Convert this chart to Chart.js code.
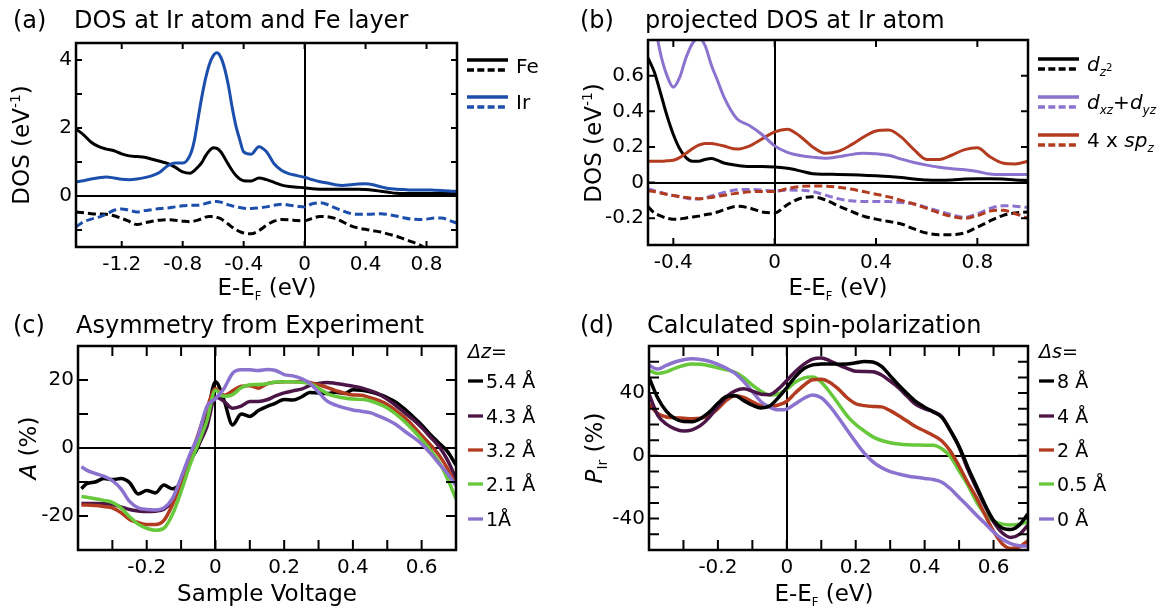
<!DOCTYPE html>
<html>

<head>
    <meta charset="utf-8">
    <title>DOS and spin-polarization at the Ir atom</title>
    <script src="https://cdn.jsdelivr.net/npm/chart.js"></script>
    <style>
        body {
            margin: 0;
            background: #fff;
            font-family: "DejaVu Sans", sans-serif;
        }

        #fig {
            position: relative;
            width: 1166px;
            height: 612px;
            overflow: hidden;
        }

        canvas {
            position: absolute;
        }

        .t {
            position: absolute;
            white-space: nowrap;
            line-height: 1;
            color: #000;
            transform: translateY(-50%);
        }

        .c {
            transform: translate(-50%, -50%);
        }

        .r {
            transform: translate(-50%, -50%) rotate(-90deg);
        }

        .big { font-size: 24px; }
        .ax { font-size: 23px; }
        .lg { font-size: 20px; }
        .lg2 { font-size: 19px; }

        sub, sup {
            font-size: 0.6em;
            line-height: 0;
        }

        sub.f {
            font-size: 0.5em;
        }

        sub sup {
            font-size: 0.85em;
        }

        svg {
            position: absolute;
            left: 0;
            top: 0;
        }
    </style>
</head>

<body>
    <div id="fig">
        <canvas id="ca" width="470" height="300" style="left:0;top:0"></canvas>
        <canvas id="cb" width="460" height="300" style="left:580px;top:0"></canvas>
        <canvas id="cc" width="470" height="312" style="left:0;top:300px"></canvas>
        <canvas id="cd" width="460" height="312" style="left:580px;top:300px"></canvas>

        <!-- legend swatches -->
        <svg width="1166" height="612">
            <g stroke-width="3.3">
                <line x1="467" x2="508" y1="60" y2="60" stroke="#000" />
                <line x1="467" x2="508" y1="70" y2="70" stroke="#000" stroke-dasharray="7 3.3" />
                <line x1="467" x2="508" y1="97" y2="97" stroke="#1c4eac" />
                <line x1="467" x2="508" y1="107" y2="107" stroke="#1c4eac" stroke-dasharray="7 3.3" />

                <line x1="1038" x2="1079" y1="59" y2="59" stroke="#000" />
                <line x1="1038" x2="1079" y1="69" y2="69" stroke="#000" stroke-dasharray="7 3.3" />
                <line x1="1038" x2="1079" y1="97" y2="97" stroke="#8b72cf" />
                <line x1="1038" x2="1079" y1="107" y2="107" stroke="#8b72cf" stroke-dasharray="7 3.3" />
                <line x1="1038" x2="1079" y1="135" y2="135" stroke="#b33b1f" />
                <line x1="1038" x2="1079" y1="145" y2="145" stroke="#b33b1f" stroke-dasharray="7 3.3" />

                <line x1="468" x2="483" y1="381" y2="381" stroke="#000" />
                <line x1="468" x2="483" y1="416" y2="416" stroke="#4c1547" />
                <line x1="468" x2="483" y1="450" y2="450" stroke="#b33b1f" />
                <line x1="468" x2="483" y1="484" y2="484" stroke="#66c83a" />
                <line x1="468" x2="483" y1="519" y2="519" stroke="#8b72cf" />

                <line x1="1039" x2="1054" y1="381" y2="381" stroke="#000" />
                <line x1="1039" x2="1054" y1="416" y2="416" stroke="#4c1547" />
                <line x1="1039" x2="1054" y1="450" y2="450" stroke="#b33b1f" />
                <line x1="1039" x2="1054" y1="484" y2="484" stroke="#66c83a" />
                <line x1="1039" x2="1054" y1="519" y2="519" stroke="#8b72cf" />
            </g>
        </svg>

        <!-- titles -->
        <div class="t big" style="left:13px;top:20px">(a)</div>
        <div class="t big" style="left:74px;top:20px">DOS at Ir atom and Fe layer</div>
        <div class="t big" style="left:580px;top:20px">(b)</div>
        <div class="t big" style="left:645px;top:20px">projected DOS at Ir atom</div>
        <div class="t big" style="left:13px;top:325px">(c)</div>
        <div class="t big" style="left:76px;top:325px">Asymmetry from Experiment</div>
        <div class="t big" style="left:580px;top:325px">(d)</div>
        <div class="t big" style="left:647px;top:325px">Calculated spin-polarization</div>

        <!-- axis titles -->
        <div class="t ax r" style="left:21px;top:145px">DOS (eV<sup>-1</sup>)</div>
        <div class="t ax r" style="left:593px;top:143px">DOS (eV<sup>-1</sup>)</div>
        <div class="t ax r" style="left:28px;top:448px"><i>A</i> (%)</div>
        <div class="t ax r" style="left:594px;top:448px"><i>P</i><sub>Ir</sub> (%)</div>
        <div class="t ax c" style="left:267px;top:287px">E-E<sub class="f">F</sub> (eV)</div>
        <div class="t ax c" style="left:838px;top:287px">E-E<sub class="f">F</sub> (eV)</div>
        <div class="t ax c" style="left:267px;top:593px">Sample Voltage</div>
        <div class="t ax c" style="left:824px;top:593px">E-E<sub class="f">F</sub> (eV)</div>

        <!-- legend texts -->
        <div class="t lg" style="left:516px;top:66px">Fe</div>
        <div class="t lg" style="left:516px;top:102px">Ir</div>
        <div class="t lg" style="left:1087px;top:64px"><i>d</i><sub><i>z</i><sup>2</sup></sub></div>
        <div class="t lg" style="left:1087px;top:102px"><i>d</i><sub><i>xz</i></sub>+<i>d</i><sub><i>yz</i></sub></div>
        <div class="t lg" style="left:1087px;top:140px">4 x <i>sp</i><sub><i>z</i></sub></div>

        <div class="t lg2" style="left:468px;top:351px"><i>Δz</i>=</div>
        <div class="t lg2" style="left:486px;top:381px">5.4 Å</div>
        <div class="t lg2" style="left:486px;top:416px">4.3 Å</div>
        <div class="t lg2" style="left:486px;top:450px">3.2 Å</div>
        <div class="t lg2" style="left:486px;top:484px">2.1 Å</div>
        <div class="t lg2" style="left:486px;top:519px">1Å</div>

        <div class="t lg2" style="left:1039px;top:351px"><i>Δs</i>=</div>
        <div class="t lg2" style="left:1057px;top:381px">8 Å</div>
        <div class="t lg2" style="left:1057px;top:416px">4 Å</div>
        <div class="t lg2" style="left:1057px;top:450px">2 Å</div>
        <div class="t lg2" style="left:1057px;top:484px">0.5 Å</div>
        <div class="t lg2" style="left:1057px;top:519px">0 Å</div>
    </div>

    <script>
        // ---- (a) DOS at Ir atom and Fe layer (up = solid, down = dashed)
        const aE = [-1.5, -1.45, -1.4, -1.35, -1.3, -1.25, -1.2, -1.15, -1.1, -1.05, -1.0, -0.95, -0.9, -0.85, -0.8, -0.75,
            -0.725, -0.7, -0.675, -0.65, -0.625, -0.6, -0.575, -0.55, -0.525, -0.5, -0.475, -0.45, -0.425,
            -0.4, -0.35, -0.3, -0.25, -0.2, -0.15, -0.1, -0.05, 0, 0.05, 0.1, 0.15, 0.2, 0.25, 0.3, 0.35, 0.4,
            0.45, 0.5, 0.55, 0.6, 0.65, 0.7, 0.75, 0.8, 0.85, 0.9, 0.95, 1.0];
        const aFeUp = [1.97, 1.80, 1.58, 1.45, 1.38, 1.33, 1.24, 1.18, 1.16, 1.14, 1.08, 1.02, 0.96, 0.85, 0.71, 0.67,
            0.74, 0.85, 0.98, 1.18, 1.33, 1.42, 1.40, 1.30, 1.12, 0.93, 0.75, 0.60, 0.50,
            0.45, 0.44, 0.53, 0.48, 0.40, 0.32, 0.28, 0.26, 0.24, 0.21, 0.20, 0.20, 0.20, 0.20, 0.20, 0.20, 0.19,
            0.17, 0.14, 0.11, 0.08, 0.07, 0.07, 0.07, 0.07, 0.07, 0.07, 0.07, 0.07];
        const aIrUp = [0.42, 0.45, 0.50, 0.54, 0.56, 0.53, 0.49, 0.48, 0.50, 0.54, 0.60, 0.70, 0.88, 0.97, 0.97, 1.22,
            1.60, 2.25, 2.90, 3.45, 3.87, 4.12, 4.21, 4.08, 3.75, 3.25, 2.60, 2.05, 1.65,
            1.30, 1.23, 1.45, 1.30, 0.95, 0.75, 0.65, 0.60, 0.55, 0.48, 0.42, 0.38, 0.33, 0.31, 0.33, 0.35, 0.36,
            0.33, 0.27, 0.22, 0.20, 0.19, 0.18, 0.18, 0.18, 0.17, 0.16, 0.15, 0.13];
        const aFeDn = [-0.47, -0.49, -0.52, -0.53, -0.54, -0.58, -0.66, -0.75, -0.84, -0.79, -0.74, -0.71, -0.70, -0.71, -0.74, -0.76,
            -0.74, -0.71, -0.67, -0.62, -0.60, -0.60, -0.63, -0.67, -0.75, -0.83, -0.92, -0.99, -1.05,
            -1.09, -1.11, -1.02, -0.86, -0.74, -0.69, -0.70, -0.72, -0.73, -0.66, -0.60, -0.61, -0.66, -0.76, -0.87, -0.94, -0.98,
            -1.02, -1.06, -1.12, -1.18, -1.26, -1.34, -1.43, -1.56, -1.68, null, null, null];
        const aIrDn = [-0.91, -0.76, -0.68, -0.62, -0.53, -0.42, -0.38, -0.42, -0.47, -0.43, -0.40, -0.37, -0.35, -0.32, -0.29, -0.27,
            -0.27, -0.27, -0.25, -0.22, -0.19, -0.165, -0.16, -0.18, -0.22, -0.26, -0.29, -0.32, -0.34,
            -0.36, -0.37, -0.35, -0.32, -0.27, -0.24, -0.27, -0.30, -0.32, -0.23, -0.20, -0.25, -0.35, -0.44, -0.51, -0.54, -0.54,
            -0.53, -0.52, -0.55, -0.59, -0.64, -0.68, -0.69, -0.68, -0.65, -0.65, -0.72, -0.80];
        const aXTicks = [-1.2, -0.8, -0.4, 0, 0.4, 0.8];
        const aYTicks = [-1, 0, 1, 2, 3, 4];
        const aYLabels = [0, 2, 4];

        // ---- (b) projected DOS at Ir atom
        const bE = [-0.5, -0.475, -0.45, -0.425, -0.4, -0.375, -0.35, -0.325, -0.3, -0.275, -0.25, -0.225, -0.2,
            -0.15, -0.1, -0.05, 0, 0.05, 0.1, 0.15, 0.2, 0.25, 0.3, 0.35, 0.4, 0.45, 0.5, 0.55, 0.6, 0.65, 0.7,
            0.75, 0.8, 0.85, 0.9, 0.95, 1.0];
        const bDz2Up = [0.70, 0.62, 0.50, 0.375, 0.27, 0.19, 0.14, 0.12, 0.12, 0.13, 0.135, 0.125, 0.11,
            0.097, 0.09, 0.09, 0.088, 0.08, 0.066, 0.05, 0.047, 0.046, 0.044, 0.041, 0.038, 0.034, 0.028, 0.02, 0.014, 0.013, 0.015,
            0.02, 0.022, 0.022, 0.02, 0.015, 0.012];
        const bDxzUp = [1.05, 0.90, 0.72, 0.60, 0.535, 0.59, 0.70, 0.78, 0.81, 0.77, 0.66, 0.57, 0.48,
            0.36, 0.32, 0.27, 0.206, 0.17, 0.152, 0.143, 0.137, 0.145, 0.157, 0.164, 0.162, 0.153, 0.132, 0.113, 0.098, 0.086, 0.078,
            0.072, 0.062, 0.048, 0.045, 0.045, 0.045];
        const bSpzUp = [0.12, 0.12, 0.12, 0.122, 0.125, 0.14, 0.165, 0.19, 0.21, 0.22, 0.22, 0.213, 0.205,
            0.188, 0.205, 0.245, 0.285, 0.30, 0.26, 0.20, 0.165, 0.175, 0.21, 0.255, 0.29, 0.295, 0.255, 0.185, 0.13, 0.13, 0.155,
            0.185, 0.195, 0.145, 0.11, 0.105, 0.12];
        const bDz2Dn = [-0.135, -0.17, -0.187, -0.2, -0.205, -0.204, -0.198, -0.193, -0.188, -0.18, -0.175, -0.165, -0.152,
            -0.133, -0.142, -0.165, -0.17, -0.124, -0.089, -0.08, -0.097, -0.13, -0.16, -0.188, -0.205, -0.218, -0.232, -0.26, -0.283, -0.292, -0.292,
            -0.282, -0.25, -0.215, -0.185, -0.17, -0.165];
        const bDxzDn = [-0.035, -0.045, -0.055, -0.065, -0.073, -0.08, -0.087, -0.092, -0.092, -0.085, -0.075, -0.065, -0.055,
            -0.04, -0.038, -0.042, -0.046, -0.042, -0.043, -0.05, -0.07, -0.09, -0.102, -0.106, -0.106, -0.106, -0.112, -0.12, -0.14, -0.16, -0.18,
            -0.195, -0.175, -0.145, -0.13, -0.132, -0.14];
        const bSpzDn = [-0.045, -0.05, -0.058, -0.066, -0.072, -0.078, -0.084, -0.088, -0.09, -0.088, -0.083, -0.077, -0.071,
            -0.06, -0.052, -0.05, -0.05, -0.033, -0.022, -0.019, -0.02, -0.026, -0.036, -0.05, -0.065, -0.08, -0.1, -0.12, -0.145, -0.17, -0.19,
            -0.2, -0.185, -0.16, -0.155, -0.175, -0.2];
        const bXTicks = [-0.4, 0, 0.4, 0.8];
        const bYTicks = [-0.2, 0, 0.2, 0.4, 0.6];
        const bYLabels = [-0.2, 0, 0.2, 0.4, 0.6];

        // ---- (c) asymmetry from experiment, per tip height dz
        const cV = [-0.39, -0.375, -0.35, -0.325, -0.3, -0.275, -0.25, -0.225, -0.2, -0.175, -0.15, -0.125, -0.1, -0.075,
            -0.05, -0.025, 0, 0.025, 0.05, 0.075, 0.1, 0.125, 0.15, 0.175, 0.2, 0.225, 0.25, 0.275, 0.3, 0.325,
            0.35, 0.375, 0.4, 0.425, 0.45, 0.475, 0.5, 0.525, 0.55, 0.575, 0.6, 0.625, 0.65, 0.675, 0.7];
        const cA54 = [-12, -10.5, -10.0, -9.0, -9.3, -9.0, -10.2, -13.5, -12.5, -13.2, -10.9, -12.0, -10, -4,
            0.5, 9, 19.5, 14, 6.8, 10, 9.3, 11, 12.2, 13.2, 14.3, 14.1, 15, 16.3, 16.2, 16.0,
            16.4, 16.0, 17.1, 17.0, 16.5, 15.8, 14.8, 13.5, 11.5, 9.2, 6.8, 4, 1.5, -1, -5];
        const cA43 = [-16.3, -16.3, -16.3, -16.4, -16.6, -17.3, -18.1, -18.5, -18.7, -18.6, -18.0, -15.5, -9.7, -3.6,
            0.8, 6.2, 15.0, 13.7, 11.7, 12.3, 13.7, 13.7, 14.2, 15.3, 16.2, 16.8, 17.3, 18.4, 19.0, 19.3,
            19.0, 18.6, 18.2, 17.7, 16.9, 15.9, 14.3, 12.5, 10.4, 8.4, 6.0, 3.3, 0.5, -3.5, -9];
        const cA32 = [-16.8, -16.8, -16.9, -17.2, -17.6, -19.0, -21.0, -21.9, -22.5, -22.5, -21.3, -16.6, -10.3, -3.4,
            4.1, 11.6, 17.4, 15.5, 16.8, 18.2, 18.3, 17.6, 18.9, 19.3, 19.5, 19.5, 19.5, 19.3, 18.6, 17.8,
            16.9, 16.1, 15.6, 15.5, 14.8, 14.0, 12.8, 11.0, 9.0, 6.5, 3.7, 1.0, -2.0, -6, -11];
        const cA21 = [-14.3, -14.5, -14.9, -15.4, -16.0, -17.6, -20.2, -22.4, -23.6, -24.2, -23.6, -19.5, -12.8, -5.2,
            1.3, 8.0, 17.0, 15.2, 15.7, 17.7, 18.6, 18.7, 18.9, 19.4, 19.5, 19.5, 19.3, 18.9, 17.6, 16.0,
            15.2, 14.7, 14.4, 14.3, 13.9, 13.0, 11.8, 10.0, 7.8, 5.3, 2.5, -0.5, -4, -9, -15];
        const cA10 = [-5.5, -6.5, -7.5, -8.3, -9.6, -12.0, -15.7, -17.6, -18.1, -18.2, -17.6, -14.8, -8.7, -2.0,
            3.8, 12.2, 14.5, 17.5, 22.0, 23.0, 23.0, 22.8, 23.1, 22.8, 21.6, 21.2, 20.4, 19.0, 16.4, 13.8,
            12.6, 11.8, 11.2, 10.8, 10.4, 9.4, 8.3, 6.9, 5.0, 3.2, 1.2, -1.5, -4.5, -7.5, -11];
        const cXTicks = [-0.3, -0.2, -0.1, 0, 0.1, 0.2, 0.3, 0.4, 0.5, 0.6];
        const cXLabels = [-0.2, 0, 0.2, 0.4, 0.6];
        const cYTicks = [-20, -10, 0, 10, 20];
        const cYLabels = [-20, 0, 20];

        // ---- (d) calculated spin-polarization, per distance ds
        const dE = [-0.4, -0.375, -0.35, -0.325, -0.3, -0.275, -0.25, -0.225, -0.2, -0.175, -0.15, -0.125, -0.1, -0.075,
            -0.05, -0.025, 0, 0.025, 0.05, 0.075, 0.1, 0.125, 0.15, 0.175, 0.2, 0.225, 0.25, 0.275, 0.3, 0.325,
            0.35, 0.375, 0.4, 0.425, 0.45, 0.475, 0.5, 0.525, 0.55, 0.575, 0.6, 0.625, 0.65, 0.675, 0.7];
        const dP8 = [50, 37, 28.5, 23.8, 21.9, 21.8, 23.8, 27.9, 33.5, 37.8, 38.3, 35.2, 32.3, 30.5,
            31.7, 37, 43.5, 50.5, 55.7, 58, 58.5, 58.6, 58.4, 58.5, 59.3, 60.2, 59.8, 57, 51, 45,
            39.5, 34.5, 31, 28, 24.5, 16, 6, -7, -19, -31, -41, -46, -47, -44, -37];
        const dP4 = [39.5, 26, 20.3, 17.2, 15.9, 16.6, 19.4, 24.5, 31.5, 37.6, 41.4, 42.7, 41.2, 39.3,
            39.0, 42.5, 48, 53.8, 58.5, 61.7, 62.4, 60.6, 58, 55.8, 53.9, 53.8, 53.6, 51.5, 47.6, 43.2,
            37.8, 32.6, 30, 28.2, 25, 16, 5.5, -8.5, -20.5, -32, -42, -49, -52, -50, -44];
        const dP2 = [33, 27, 24.8, 24.3, 24, 23.7, 24, 25.8, 30, 35.5, 38.3, 37.2, 34.5, 32,
            31.2, 32.4, 34.8, 40.2, 45, 48.5, 48.8, 46.8, 42.5, 37, 33.2, 32, 31.5, 31.2, 28.8, 25.5,
            22, 18.5, 15.8, 13, 9.5, 3, -6.5, -17, -26.5, -37.5, -48, -56, -59, -58, -54];
        const dP05 = [54.4, 52.5, 53.5, 55.8, 57.6, 58.6, 58.3, 57.4, 56.1, 54.8, 53.2, 49.8, 45, 41.2,
            38.8, 39.5, 42.5, 47, 49.7, 50.2, 47, 40.5, 33, 25.5, 20, 15.8, 12.1, 9.8, 8.4, 7.5,
            7.0, 6.9, 6.8, 6.8, 4.5, -0.5, -9.5, -18.5, -29, -37, -41.5, -43.5, -44, -43.5, -42];
        const dP0 = [57.6, 55.3, 57.7, 59.8, 61.2, 61.8, 61.4, 60.3, 58.3, 55.8, 52.5, 47.3, 41, 34.5,
            31, 29.3, 29.8, 33.2, 36.7, 38.8, 37, 31.5, 24.3, 16.5, 8.8, 1.7, -3.8, -7.5, -10, -11.6,
            -12.8, -13.7, -14.4, -15.1, -16.8, -21, -26.5, -32, -37.7, -43, -48.5, -53, -56, -57.3, -57.5];
        const dXTicks = [-0.3, -0.2, -0.1, 0, 0.1, 0.2, 0.3, 0.4, 0.5, 0.6];
        const dXLabels = [-0.2, 0, 0.2, 0.4, 0.6];
        const dYTicks = [-50, -40, -30, -20, -10, 0, 10, 20, 30, 40, 50, 60];
        const dYLabels = [-40, 0, 40];

        const BLACK = '#000000', BLUE = '#1c4eac', VIOLET = '#8b72cf', RED = '#b33b1f', PLUM = '#4c1547', GREEN = '#66c83a';

        // box round the plot area and inward ticks on all four sides
        const frame = {
            id: 'frame',
            afterDraw(chart, args, opts) {
                const { ctx, chartArea: a, scales } = chart;
                ctx.save();
                ctx.strokeStyle = '#000';
                ctx.lineWidth = 2;
                ctx.beginPath();
                scales.x.ticks.forEach(t => {
                    const x = scales.x.getPixelForValue(t.value);
                    ctx.moveTo(x, a.bottom); ctx.lineTo(x, a.bottom - opts.len);
                    ctx.moveTo(x, a.top); ctx.lineTo(x, a.top + opts.len);
                });
                scales.y.ticks.forEach(t => {
                    const y = scales.y.getPixelForValue(t.value);
                    ctx.moveTo(a.left, y); ctx.lineTo(a.left + opts.len, y);
                    ctx.moveTo(a.right, y); ctx.lineTo(a.right - opts.len, y);
                });
                ctx.stroke();
                ctx.lineWidth = 2.5;
                ctx.strokeRect(a.left, a.top, a.width, a.height);
                ctx.restore();
            }
        };

        function axis(min, max, ticks, labels, horizontal, size) {
            return {
                type: 'linear',
                min: min,
                max: max,
                afterBuildTicks: s => { s.ticks = ticks.map(v => ({ value: v })); },
                afterFit: s => { if (horizontal) s.height = size; else s.width = size; },
                grid: {
                    drawTicks: false,
                    lineWidth: 2,
                    color: c => (c.tick && c.tick.value === 0) ? '#000' : 'rgba(0,0,0,0)'
                },
                border: { display: false },
                ticks: {
                    autoSkip: false,
                    maxRotation: 0,
                    padding: horizontal ? 6 : 4,
                    color: '#000',
                    font: { family: 'DejaVu Sans', size: 20 },
                    callback: v => labels.includes(v) ? String(v) : ''
                }
            };
        }

        function panel(id, p) {
            const datasets = p.series.map(s => ({
                data: p.x.map((x, i) => ({ x: x, y: s.y[i] })),
                borderColor: s.color,
                borderWidth: p.lw,
                borderDash: s.dash ? [8, 4] : [],
                pointRadius: 0,
                fill: false,
                cubicInterpolationMode: 'monotone',
                clip: 0
            }));
            return new Chart(document.getElementById(id), {
                type: 'line',
                data: { datasets: datasets },
                options: {
                    responsive: false,
                    animation: false,
                    events: [],
                    layout: { padding: p.pad, autoPadding: false },
                    plugins: { legend: { display: false }, tooltip: { enabled: false }, frame: { len: p.tick } },
                    scales: {
                        x: axis(p.xr[0], p.xr[1], p.xt, p.xl, true, p.xh),
                        y: axis(p.yr[0], p.yr[1], p.yt, p.yl, false, p.yw)
                    }
                },
                plugins: [frame]
            });
        }

        panel('ca', {
            x: aE, lw: 3, tick: 6,
            pad: { left: 0, right: 13, top: 43, bottom: 0 }, xh: 53, yw: 76,
            xr: [-1.5, 1.0], xt: aXTicks, xl: aXTicks,
            yr: [-1.5, 4.5], yt: aYTicks, yl: aYLabels,
            series: [
                { y: aIrUp, color: BLUE },
                { y: aFeUp, color: BLACK },
                { y: aIrDn, color: BLUE, dash: true },
                { y: aFeDn, color: BLACK, dash: true }
            ]
        });

        panel('cb', {
            x: bE, lw: 3, tick: 7,
            pad: { left: 0, right: 12, top: 40, bottom: 0 }, xh: 55, yw: 68,
            xr: [-0.5, 1.0], xt: bXTicks, xl: bXTicks,
            yr: [-0.35, 0.8], yt: bYTicks, yl: bYLabels,
            series: [
                { y: bDxzUp, color: VIOLET },
                { y: bSpzUp, color: RED },
                { y: bDz2Up, color: BLACK },
                { y: bSpzDn, color: RED, dash: true },
                { y: bDxzDn, color: VIOLET, dash: true },
                { y: bDz2Dn, color: BLACK, dash: true }
            ]
        });

        panel('cc', {
            x: cV, lw: 3.5, tick: 10,
            pad: { left: 0, right: 14, top: 46, bottom: 0 }, xh: 62, yw: 78,
            xr: [-0.4, 0.7], xt: cXTicks, xl: cXLabels,
            yr: [-30, 30], yt: cYTicks, yl: cYLabels,
            series: [
                { y: cA10, color: VIOLET },
                { y: cA21, color: GREEN },
                { y: cA32, color: RED },
                { y: cA43, color: PLUM },
                { y: cA54, color: BLACK }
            ]
        });

        panel('cd', {
            x: dE, lw: 3.5, tick: 10,
            pad: { left: 0, right: 12, top: 46, bottom: 0 }, xh: 62, yw: 69,
            xr: [-0.4, 0.7], xt: dXTicks, xl: dXLabels,
            yr: [-60, 70], yt: dYTicks, yl: dYLabels,
            series: [
                { y: dP8, color: BLACK },
                { y: dP4, color: PLUM },
                { y: dP0, color: VIOLET },
                { y: dP2, color: RED },
                { y: dP05, color: GREEN }
            ]
        });
    </script>
</body>

</html>
